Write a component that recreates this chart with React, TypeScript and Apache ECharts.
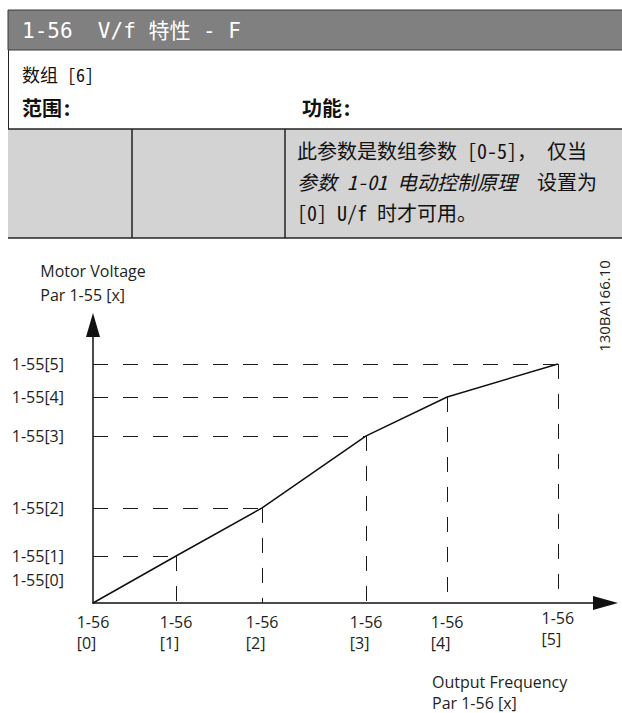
import React, { useEffect, useRef } from 'react';
import * as echarts from 'echarts';

// ---- data ----
const freqIndexLabels = ['[0]', '[1]', '[2]', '[3]', '[4]', '[5]'];
const voltIndexLabels = ['1-55[0]', '1-55[1]', '1-55[2]', '1-55[3]', '1-55[4]', '1-55[5]'];
const freqPrefix = '1-56';
// relative output frequency of each V/f point (0..100 scale)
const freqValues = [0, 16.2, 33.0, 53.3, 69.1, 90.7];
// relative motor voltage of each V/f point (0..100 scale)
const voltValues = [0, 16.9, 34.2, 60.1, 74.1, 86.0];

const headerTitle = '1-56  V/f 特性 - F';
const arrayText = '数组 [6]';
const rangeText = '范围:';
const funcText = '功能:';
const descLine1 = '此参数是数组参数 [0-5]， 仅当';
const descLine2Italic = '参数 1-01 电动控制原理';
const descLine2Normal = '设置为';
const descLine3 = '[0] U/f 时才可用。';
const yTitle = ['Motor Voltage', 'Par 1-55 [x]'];
const xTitle = ['Output Frequency', 'Par 1-56 [x]'];
const drawingCode = '130BA166.10';

const chartFont = "'Open Sans', 'Noto Sans', sans-serif";
const tableFont = "'Noto Sans Mono CJK SC', 'Noto Sans CJK SC', 'DejaVu Sans Mono', monospace";
const headerFont = "'DejaVu Sans Mono', 'Noto Sans CJK SC', monospace";
const ink = '#231f20';
const fs = 16;

function idxOf(arr: number[], v: number) {
  return arr.findIndex((a) => Math.abs(a - v) < 1e-6);
}

export default function App() {
  const ref = useRef<HTMLDivElement>(null);
  useEffect(() => {
    if (!ref.current) return;
    const chart = echarts.init(ref.current, null, { renderer: 'svg' });

    const lineData = freqValues.map((f, i) => [f, voltValues[i]]);
    const guides: any[] = [];
    for (let i = 1; i < freqValues.length; i++) {
      guides.push([{ coord: [0, voltValues[i]] }, { coord: [freqValues[i], voltValues[i]] }]);
      guides.push([{ coord: [freqValues[i], voltValues[i]] }, { coord: [freqValues[i], 0] }]);
    }

    const tok = (extra: any) => ({ fontFamily: chartFont, fontSize: fs, color: ink, ...extra });

    const option: any = {
      animation: false,
      backgroundColor: '#ffffff',
      grid: { left: 93, top: 325, width: 512.5, height: 278, containLabel: false, outerBoundsMode: 'none' },
      xAxis: {
        type: 'value',
        min: 0,
        max: 100,
        axisLine: {
          show: true,
          onZero: false,
          symbol: ['none', 'triangle'],
          symbolSize: [14, 25],
          lineStyle: { color: '#111', width: 1.5 },
        },
        axisTick: { show: false },
        splitLine: { show: false },
        axisLabel: {
          customValues: freqValues,
          margin: 8,
          color: ink,
          fontFamily: chartFont,
          fontSize: fs,
          lineHeight: 21,
          formatter: (v: number) => {
            const i = idxOf(freqValues, v);
            if (i < 0) return '';
            if (i === freqValues.length - 1) return `{c|${freqPrefix}}\n{d|${freqIndexLabels[i]}}`;
            return `{a|${freqPrefix}}\n{b|${freqIndexLabels[i]}}`;
          },
          rich: {
            a: tok({ align: 'left', lineHeight: 21 }),
            b: tok({ align: 'left', lineHeight: 21 }),
            c: tok({ align: 'left', lineHeight: 13 }),
            d: tok({ align: 'left', lineHeight: 29 }),
          },
        },
      },
      yAxis: {
        type: 'value',
        min: 0,
        max: 100,
        name: `{n|${yTitle[0]}}\n{n|${yTitle[1]}}`,
        nameLocation: 'end',
        nameGap: 18,
        nameTextStyle: {
          color: ink,
          fontFamily: chartFont,
          fontSize: fs,
          lineHeight: 24,
          rich: { n: tok({ align: 'left', lineHeight: 24 }) },
        },
        axisLine: {
          show: true,
          onZero: false,
          symbol: ['none', 'triangle'],
          symbolSize: [14, 24],
          lineStyle: { color: '#111', width: 1.5 },
        },
        axisTick: { show: false },
        splitLine: { show: false },
        axisLabel: {
          customValues: voltValues,
          margin: 29,
          color: ink,
          fontFamily: chartFont,
          fontSize: fs,
          lineHeight: 20,
          formatter: (v: number) => {
            const i = idxOf(voltValues, v);
            if (i < 0) return '';
            if (i === 0) return `{t|${voltIndexLabels[i]}}\n{sp| }`;
            return `{t|${voltIndexLabels[i]}}`;
          },
          rich: {
            t: tok({ lineHeight: 20 }),
            sp: { lineHeight: 46, fontSize: fs },
          },
        },
      },
      series: [
        {
          type: 'line',
          data: lineData,
          symbol: 'none',
          lineStyle: { color: '#111', width: 1.5 },
          silent: true,
          z: 3,
          markLine: {
            silent: true,
            symbol: ['none', 'none'],
            label: { show: false },
            emphasis: { disabled: true },
            lineStyle: { type: [15, 15], width: 1, color: '#1a1a1a' },
            data: guides,
          },
        },
      ],
      graphic: [
        // header bar
        { type: 'rect', shape: { x: 8, y: 10, width: 616, height: 40 }, style: { fill: '#808080', stroke: '#3a3a3a', lineWidth: 1 }, z: 1 },
        {
          type: 'text', x: 22, y: 31,
          style: { text: headerTitle, fill: '#ffffff', font: `21px ${headerFont}`, verticalAlign: 'middle', align: 'left' },
          z: 2,
        },
        // left border
        { type: 'line', shape: { x1: 8.5, y1: 50, x2: 8.5, y2: 238 }, style: { stroke: '#222', lineWidth: 1 } },
        { type: 'text', x: 22, y: 74, style: { text: arrayText, fill: '#111', font: `18px ${tableFont}`, verticalAlign: 'middle' } },
        { type: 'text', x: 22, y: 107, style: { text: rangeText, fill: '#111', font: `bold 20px ${tableFont}`, verticalAlign: 'middle' } },
        { type: 'text', x: 302, y: 107, style: { text: funcText, fill: '#111', font: `bold 20px ${tableFont}`, verticalAlign: 'middle' } },
        // grey row
        { type: 'rect', shape: { x: 8, y: 129, width: 616, height: 109 }, style: { fill: '#d3d3d3' } },
        { type: 'line', shape: { x1: 8, y1: 129, x2: 622, y2: 129 }, style: { stroke: '#222', lineWidth: 1.5 } },
        { type: 'line', shape: { x1: 8, y1: 238, x2: 622, y2: 238 }, style: { stroke: '#222', lineWidth: 1.5 } },
        { type: 'line', shape: { x1: 132, y1: 129, x2: 132, y2: 238 }, style: { stroke: '#222', lineWidth: 1.5 } },
        { type: 'line', shape: { x1: 285, y1: 129, x2: 285, y2: 238 }, style: { stroke: '#222', lineWidth: 1.5 } },
        { type: 'text', x: 297, y: 150, style: { text: descLine1, fill: '#111', font: `20px ${tableFont}`, verticalAlign: 'middle' } },
        {
          type: 'text', x: 297, y: 181,
          style: {
            text: `{i|${descLine2Italic}}  {n|${descLine2Normal}}`,
            fill: '#111', font: `20px ${tableFont}`, verticalAlign: 'middle',
            rich: {
              i: { fontStyle: 'italic', fontFamily: tableFont, fontSize: 20, fill: '#111' },
              n: { fontFamily: tableFont, fontSize: 20, fill: '#111' },
            },
          },
        },
        { type: 'text', x: 297, y: 212, style: { text: descLine3, fill: '#111', font: `20px ${tableFont}`, verticalAlign: 'middle' } },
        // x axis title
        { type: 'text', x: 432, y: 682, style: { text: xTitle[0], fill: ink, font: `${fs}px ${chartFont}`, verticalAlign: 'middle' } },
        { type: 'text', x: 432, y: 703, style: { text: xTitle[1], fill: ink, font: `${fs}px ${chartFont}`, verticalAlign: 'middle' } },
        // drawing code
        {
          type: 'text', x: 604, y: 306, rotation: Math.PI / 2,
          style: { text: drawingCode, fill: ink, font: `15px ${chartFont}`, align: 'center', verticalAlign: 'middle' },
        },
      ],
    };

    chart.setOption(option);
    return () => chart.dispose();
  }, []);

  return (
    <div
      ref={ref}
      style={{ position: 'absolute', left: 0, top: 0, width: 622, height: 713, background: '#fff' }}
    />
  );
}
